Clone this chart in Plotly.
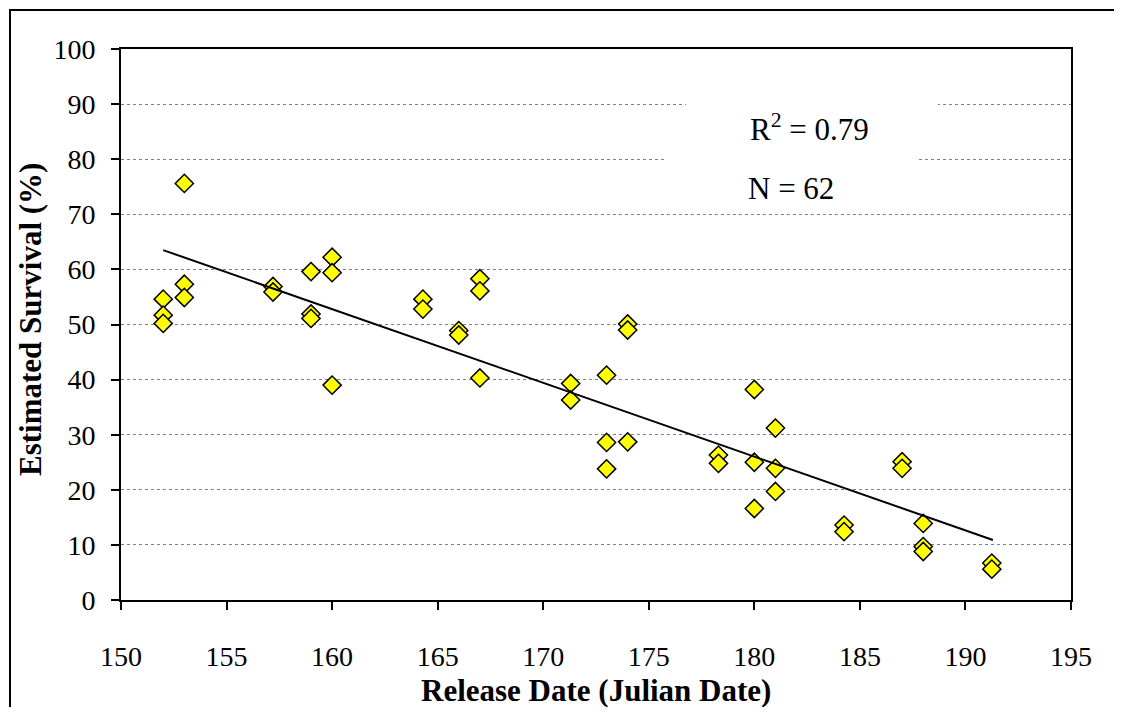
import plotly.graph_objects as go

# ---- data ----
release_day = [152, 152, 152,
               153, 153, 153,
               157.2, 157.2,
               159, 159, 159,
               160, 160, 160,
               164.3, 164.3,
               166, 166,
               167, 167, 167,
               171.3, 171.3,
               173, 173, 173,
               174, 174, 174,
               178.3, 178.3,
               180, 180, 180,
               181, 181, 181,
               184.25, 184.25,
               187, 187,
               188, 188, 188,
               191.25, 191.25]
survival = [54.6, 51.7, 50.2,
            75.6, 57.3, 54.9,
            56.9, 55.9,
            59.6, 51.9, 51.1,
            62.2, 59.4, 39.0,
            54.6, 52.8,
            48.9, 48.1,
            58.3, 56.1, 40.3,
            39.3, 36.3,
            40.8, 28.6, 23.8,
            50.1, 49.0, 28.7,
            26.3, 24.8,
            38.2, 25.0, 16.6,
            31.2, 23.9, 19.7,
            13.6, 12.4,
            25.1, 23.9,
            13.9, 9.7, 8.8,
            6.7, 5.6]

trend_x = [152, 191.3]
trend_y = [63.5, 10.9]

x_ticks = [150, 155, 160, 165, 170, 175, 180, 185, 190, 195]
y_ticks = [0, 10, 20, 30, 40, 50, 60, 70, 80, 90, 100]

r2_text = "R<sup>2</sup> = 0.79"
n_text = "N = 62"
x_title = "<b>Release Date (Julian Date)</b>"
y_title = "<b>Estimated Survival (%)</b>"

FONT = "Liberation Serif"

fig = go.Figure()
fig.add_trace(go.Scatter(
    x=release_day, y=survival, mode="markers",
    marker=dict(symbol="diamond", size=14, color="#FFFF00",
                line=dict(color="black", width=1.5)),
    showlegend=False, hoverinfo="x+y"))
fig.add_trace(go.Scatter(
    x=trend_x, y=trend_y, mode="lines",
    line=dict(color="black", width=2), showlegend=False))

OFF = 8  # page body margin
W, H = 1106, 699
L, T = 113, 41
pw, ph = 950, 551
R, B = W - L - pw, H - T - ph


def px(xp):
    # reference window pixel -> paper x
    return (xp - OFF - L) / pw


def py(yp):
    # reference window pixel -> paper y
    return (H - B - (yp - OFF)) / ph


shapes = [
    # white text boxes
    dict(type="rect", xref="paper", yref="paper",
         x0=px(686), x1=px(938), y0=py(153), y1=py(96),
         line=dict(width=0), fillcolor="white", layer="above"),
    dict(type="rect", xref="paper", yref="paper",
         x0=px(667), x1=px(918), y0=py(210), y1=py(155),
         line=dict(width=0), fillcolor="white", layer="above"),
]

annotations = [
    # outer frame: a bordered empty box whose right/bottom edges lie off-page
    dict(text=" ", xref="paper", yref="paper", x=px(8.5), y=py(8.5),
         xanchor="left", yanchor="top", showarrow=False,
         width=1400, height=900, borderwidth=2, borderpad=0,
         bordercolor="black", bgcolor="rgba(0,0,0,0)",
         font=dict(family=FONT, size=10, color="black")),
    dict(text=r2_text, xref="paper", yref="paper", x=px(748), y=py(128),
         xanchor="left", yanchor="middle", showarrow=False,
         font=dict(family=FONT, size=31, color="black")),
    dict(text=n_text, xref="paper", yref="paper", x=px(746), y=py(188),
         xanchor="left", yanchor="middle", showarrow=False,
         font=dict(family=FONT, size=31, color="black")),
    dict(text=x_title, xref="paper", yref="paper", x=0.5, y=py(690),
         xanchor="center", yanchor="middle", showarrow=False,
         font=dict(family=FONT, size=31, color="black")),
    dict(text=y_title, xref="paper", yref="paper", x=px(30), y=py(320),
         xanchor="center", yanchor="middle", showarrow=False, textangle=-90,
         font=dict(family=FONT, size=31, color="black")),
]

fig.update_layout(
    width=W, height=H,
    margin=dict(l=L, r=R, t=T, b=B, autoexpand=False),
    paper_bgcolor="white", plot_bgcolor="white",
    font=dict(family=FONT, size=28, color="black"),
    shapes=shapes, annotations=annotations,
    xaxis=dict(range=[150, 195], tickvals=x_ticks, ticks="outside",
               ticklen=8, tickwidth=2, tickcolor="black",
               showline=True, linecolor="black", linewidth=2, mirror=True,
               showgrid=False, zeroline=False,
               ticklabelstandoff=22,
               tickfont=dict(family=FONT, size=28, color="black")),
    yaxis=dict(range=[0, 100], tickvals=y_ticks, ticks="outside",
               ticklen=8, tickwidth=2, tickcolor="black",
               showline=True, linecolor="black", linewidth=2, mirror=True,
               showgrid=True, gridcolor="#808080", gridwidth=1, griddash="dot",
               zeroline=False, ticklabelstandoff=10,
               tickfont=dict(family=FONT, size=28, color="black")),
)

fig.write_html("out.html")
